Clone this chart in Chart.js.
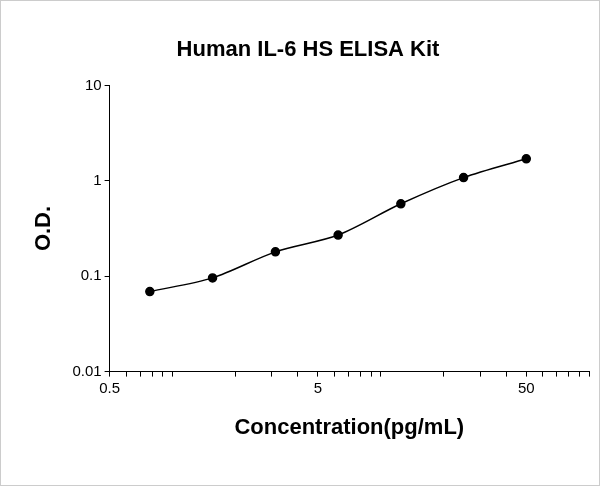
<!DOCTYPE html>
<html><head><script src="https://cdn.jsdelivr.net/npm/chart.js@4"></script>
<style>body{margin:0;background:#fff}#w{width:598px;height:484px;border:1px solid #ccc;position:relative}</style></head>
<body><div id="w"><canvas id="c" width="598" height="484"></canvas></div>
<script>
const concentrations=[0.78,1.56,3.125,6.25,12.5,25,50];
const odValues=[0.069,0.096,0.18,0.27,0.574,1.08,1.7];
const xTickLabels=[0.5,5,50];
const yTickLabels=[0.01,0.1,1,10];
const xTicks=[0.5,0.6,0.7,0.8,0.9,1,2,3,4,5,6,7,8,9,10,20,30,40,50,60,70,80,90,100];
const yTicks=[0.01,0.1,1,10];
const pts=concentrations.map((x,i)=>({x,y:odValues[i]}));
new Chart(document.getElementById('c'),{
type:'scatter',
data:{datasets:[{data:pts,showLine:true,borderColor:'#000',backgroundColor:'#000',borderWidth:1.5,pointRadius:4,tension:0.3}]},
options:{responsive:false,animation:false,
layout:{padding:{top:6,right:10,left:26,bottom:40}},
plugins:{legend:{display:false},tooltip:{enabled:false},
title:{display:true,text:'Human IL-6 HS ELISA Kit',color:'#000',font:{family:'Arial',size:22,weight:'bold'},padding:{top:30,bottom:22}}},
scales:{
x:{type:'logarithmic',min:0.5,max:100,
afterBuildTicks:a=>{a.ticks=xTicks.map(v=>({value:v}))},
ticks:{autoSkip:false,maxRotation:0,color:'#000',font:{family:'Arial',size:15},callback:v=>xTickLabels.includes(v)?String(v):''},
grid:{drawOnChartArea:false,color:'#000',tickLength:5},border:{color:'#000'},
title:{display:true,text:'Concentration(pg/mL)',color:'#000',font:{family:'Arial',size:22,weight:'bold'},padding:{top:14}}},
y:{type:'logarithmic',min:0.01,max:10,
afterBuildTicks:a=>{a.ticks=yTicks.map(v=>({value:v}))},
ticks:{autoSkip:false,color:'#000',font:{family:'Arial',size:15},callback:v=>yTickLabels.includes(v)?String(v):''},
grid:{drawOnChartArea:false,color:'#000',tickLength:5},border:{color:'#000'},
title:{display:true,text:'O.D.',color:'#000',font:{family:'Arial',size:22,weight:'bold'},padding:{bottom:12}}}
}}});
</script></body></html>
